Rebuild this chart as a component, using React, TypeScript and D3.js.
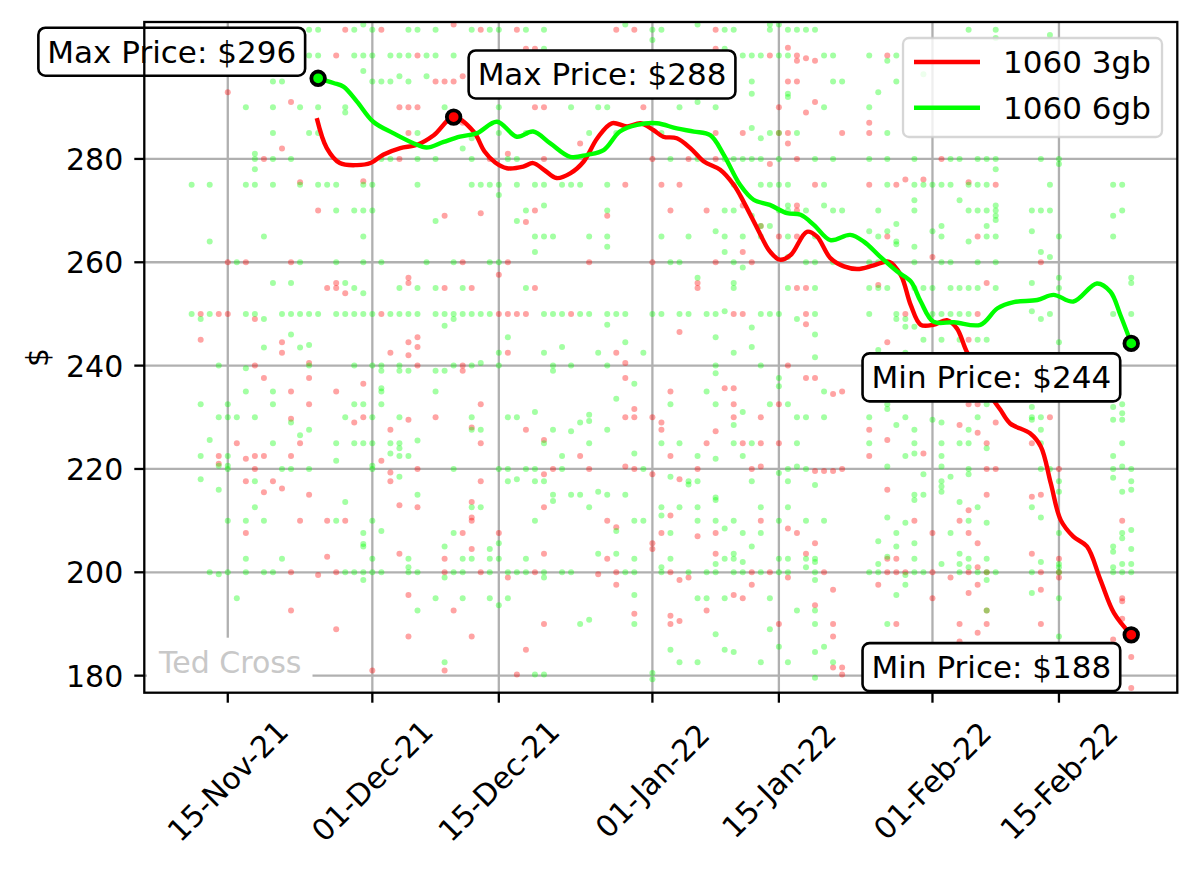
import React, { useEffect, useRef } from "react";
import * as d3 from "d3";

type Pt = [number, number];
type DayCol = [number, number[]];

// day 0 = 15-Nov-21
const baseDate = new Date(2021, 10, 15);
const dayToDate = (d: number) => new Date(baseDate.getTime() + d * 864e5);

const seriesNames = ["1060 3gb", "1060 6gb"];
const seriesColors = ["#ff0000", "#00ff00"];

const tickDates = ["2021-11-15", "2021-12-01", "2021-12-15", "2022-01-01", "2022-01-15", "2022-02-01", "2022-02-15"];
const yTicks = [180, 200, 220, 240, 260, 280];

// individual listings (6gb), [day, prices]
const listings6gbEarly: DayCol[] = [
  [-4, [275, 250]],
  [-3, [305, 249, 232.5, 222.5, 218]],
  [-2, [275, 264, 250, 225.6, 200]],
  [-1, [240, 230, 220.6, 216, 199.6]],
  [0, [232.5, 230, 222.5, 220, 220.6, 210, 200]],
  [1, [260, 230, 195]],
  [2, [290, 275, 250, 239.5, 235, 210, 202.6, 200]],
  [3, [281, 280, 278, 275, 250, 230, 217.6, 212.6]],
  [4, [265, 249, 243.5, 210, 200]],
  [5, [295, 290, 285, 280, 275, 256, 235, 232.5, 225, 200]],
  [6, [295, 250, 220, 202.6]],
  [7, [280, 256, 250, 246, 229, 220]],
  [8, [290, 275, 260, 250, 243.5, 226.5]],
  [9, [305, 300, 285, 250, 244, 240, 227.6, 220]],
  [10, [305, 300, 290, 285, 275, 250]],
  [11, [275]],
  [12, [275, 270, 260, 250, 225, 221.6, 210]],
  [13, [290, 289, 256, 250, 230, 213.6, 200]],
  [14, [305, 300, 270, 255, 250, 240, 232.5, 225, 200]],
  [15, [306, 300, 297, 275, 270, 265, 260, 254, 250, 232.5, 225, 207.6, 205.5, 205, 200, 198.5]],
  [16, [305, 300, 295, 275, 270, 250, 240, 230, 225, 220.6, 220, 210, 202.6, 200]],
  [17, [295, 280, 260, 240, 239, 235.6, 235, 232.5, 208, 200]],
  [18, [300, 295, 280, 250, 225, 223]],
  [19, [300, 296, 255, 250, 240, 239, 230, 225, 224, 222.5, 218.5]],
  [20, [305, 300, 295, 250, 239, 222.5, 202.6, 201, 200]],
  [21, [305, 285, 280, 275, 255, 250, 225.5, 215, 200, 192.6]],
  [22, [300, 296, 260]],
  [23, [305, 300, 280, 268, 255, 250, 239, 235, 195]],
  [24, [290, 250, 247.7, 239, 205, 199, 182.6]],
  [25, [300, 260, 250, 249, 240, 220, 207.6, 200]],
  [26, [282, 255, 250, 202.6, 200, 195]],
  [27, [305, 300, 284, 280, 275, 250, 240, 230, 227.6, 212.6, 202.6]],
  [28, [300, 275, 250, 240.5, 227.6, 212.6]],
  [29, [305, 275, 260, 250, 204.5, 202.6, 200, 195]],
];

const listings6gbMid: DayCol[] = [
  [30, [305, 290, 285, 275, 273, 260, 242.5, 240, 220, 205.6, 202.6, 193.6]],
  [31, [280, 245.5, 230, 220, 217.6, 200, 195]],
  [32, [280, 275, 268, 230, 218, 200]],
  [33, [305, 285, 270, 255, 220, 202.6, 200]],
  [34, [275, 265, 262, 231, 220, 217.6, 210, 180.2]],
  [35, [305, 301.3, 275, 271, 265, 250, 242.5, 225, 217.6, 200, 199, 180.2]],
  [36, [265, 250, 240, 239, 227.6, 215, 213.8]],
  [37, [275, 250, 243.6, 222.5, 220, 200]],
  [38, [290, 275, 240, 227.3, 215, 200]],
  [39, [275, 250, 229, 215, 190]],
  [40, [285, 265, 250, 230.5, 229.3, 225, 212.6, 190.8]],
  [41, [290, 242.5, 215.6, 203.6]],
  [42, [290, 275, 270, 265, 263, 250, 247.9, 240, 227.6, 215]],
  [43, [285, 250, 233.6, 208, 203.6]],
  [44, [306, 250, 244.5, 215, 200]],
  [45, [236.5, 223, 210, 202.6, 200, 195.6, 190]],
  [46, [242.5, 220, 210]],
  [47, [305, 303, 250, 180.5, 179.3]],
  [48, [305, 285, 265, 250, 225, 212.6, 211, 201, 200]],
  [49, [298, 280, 260, 232.5, 218.5, 207.6, 202.6, 185]],
  [50, [290, 260, 250, 225, 212.6, 182.6]],
  [51, [265, 250, 217.6, 217, 200]],
  [52, [306, 291, 280, 257, 222.5, 217.6, 212.6, 210, 195, 182.6]],
  [53, [250, 235, 200, 195]],
  [54, [290, 266, 250, 245.5, 240, 238.5, 232.5, 222, 214.5, 214, 210, 201.6, 200, 188]],
  [55, [305, 301.3, 280, 270, 265, 262, 250.5, 208.5, 202.6, 195, 185]],
  [56, [305, 280, 275, 270, 260, 256, 255, 242.5, 228.5, 225, 210, 203.6, 202.6, 200, 184.6]],
  [57, [300, 280, 265, 259, 231, 222.5, 207.6, 202, 200]],
  [58, [300, 295, 292.6, 286, 280, 269, 247.4, 243.6, 225, 217.6, 205]],
  [59, [300, 284, 280, 275, 267, 265, 250, 240, 212.6, 207.6, 200, 182.6]],
  [60, [306, 305, 285, 275, 267, 250, 232.5, 195, 189]],
  [61, [306, 300, 285, 280, 275, 270, 250, 237.6, 236, 219.2, 210, 202.6, 200, 185.6]],
  [62, [305, 300, 292.6, 292, 275, 271, 270, 265, 261, 255, 232.5, 220, 217.6, 212.6, 202.6, 200, 182.6]],
  [63, [305, 285, 249, 230, 225, 220.5, 192.6]],
  [64, [305, 270, 260, 230, 220, 210, 202.6, 201]],
  [65, [305, 280, 265, 260, 255, 250, 246, 241.6, 216.9, 202.6, 202, 200, 198.5, 192.6, 190, 184.6, 179.6]],
  [66, [300, 290, 275, 271, 235, 230, 210, 185.6]],
];

const listings6gbLate: DayCol[] = [
  [67, [300, 295, 280, 270, 260, 182.6]],
  [68, [295, 270]],
  [71, [300, 290, 280, 266, 260, 255, 250, 230, 225, 200]],
  [72, [292.9, 270, 265, 260, 255, 243, 206, 201.6, 200]],
  [73, [299, 285, 280, 275, 266, 255, 232.5, 231.6, 220.5, 210.6, 203, 190]],
  [74, [300, 295, 267.4, 264, 263.5, 250, 249, 228.5, 207.6, 205, 195.6]],
  [75, [249, 247.5, 242.5, 230, 222.5, 209.6, 199.5, 197.6]],
  [76, [280, 275, 272, 270, 263, 260, 255, 247.5, 227.6, 225, 223, 215, 214, 205.6, 202.6, 200]],
  [77, [296.4, 275, 255, 245, 219, 215, 200]],
  [78, [275, 266, 255, 250, 229.5]],
  [79, [275, 267, 265, 260, 250, 245, 229, 225, 222.5, 220.5, 217.6, 216.6, 215.6, 201.6]],
  [80, [280, 275, 260, 255, 250, 218.5, 207.6]],
  [81, [280, 272, 255, 250, 245, 225, 213.6, 203.6, 201.6, 200]],
  [82, [305, 275, 270, 264, 255, 250, 227.6, 225, 220, 219, 210, 202.6, 201]],
  [83, [280, 275, 270, 260, 255, 245, 230, 212.6, 200]],
  [84, [280, 275, 270, 267, 265, 245, 232.5, 224, 209.6, 202.6, 200, 198.5, 192.6]],
  [85, [305, 303.4, 280, 278, 271, 270, 269, 268.2, 265, 260, 255, 200]],
  [89, [270, 266, 256, 250.5, 232, 230, 229.5, 212.6, 200, 196]],
  [90, [280, 270, 262, 249, 230, 227.6, 225, 220, 210.6, 202]],
  [91, [304, 275, 270, 261, 250, 220]],
  [92, [280, 279, 265, 257, 255, 244.5, 217.6, 215.6, 207.6, 201.6, 201, 200, 195, 187.6]],
  [98, [275, 269, 265, 250, 232, 229.5, 222.5, 220, 218.3, 205, 204, 201, 200]],
  [99, [275, 270, 232.5, 230.8, 229.5, 225, 220.5, 215.6, 207.6, 206.6, 201.6, 200]],
  [100, [257, 256, 250, 220, 217.6, 216, 208.2, 204.5, 201.6, 200]],
];

// individual listings (3gb), [day, prices]
const listings3gbEarly: DayCol[] = [
  [-3, [250, 245]],
  [-1, [250, 222.5, 221]],
  [0, [292.9, 260, 250]],
  [1, [225]],
  [2, [260, 222, 217.6, 207.6]],
  [3, [249, 240, 222.5, 220]],
  [4, [280, 237.6, 222.5, 215.5]],
  [5, [217.6]],
  [6, [282, 244.5, 242.5, 216.2]],
  [7, [291, 260, 235, 229.7, 222.5, 200, 192.6]],
  [8, [275.5, 225, 210]],
  [9, [240.5, 237.6, 232.5, 215]],
  [10, [270, 199.5]],
  [11, [255, 210, 203]],
  [12, [300, 256, 255, 235, 200, 189]],
  [13, [305, 254, 210]],
  [14, [229]],
  [15, [275.7, 236.5, 230]],
  [16, [181]],
  [17, [305, 250, 221.6]],
  [18, [242.5, 227.6, 219.3, 217.6]],
  [19, [290, 280, 213, 203.6]],
  [20, [290, 285, 257, 256, 244.5, 242, 229.5, 195.6, 187.6]],
  [21, [300, 290, 245.5, 243.6, 240, 220, 212.6]],
  [23, [295, 230]],
  [24, [295, 269, 255, 202.6, 200, 181]],
  [25, [306, 295, 192.6]],
  [26, [296, 287, 260, 240, 239, 207.6]],
  [27, [255, 228, 213.6, 210.6, 210, 204.5, 187.6]],
  [28, [305, 269.5, 232.5, 225, 217.6, 200]],
  [29, [280]],
];

const listings3gbMid: DayCol[] = [
  [30, [257.6, 250, 207.6]],
  [31, [281, 260, 250, 242.5, 199]],
  [32, [305, 250, 180.2]],
  [33, [301.3, 267.8, 250, 227.6, 185]],
  [34, [301.3, 290, 270, 255, 200]],
  [35, [290, 280, 225.6, 219, 212.6, 203.6, 190]],
  [36, [220]],
  [38, [250]],
  [39, [283, 222.5]],
  [40, [260, 220]],
  [41, [199.6]],
  [42, [269, 210, 202.6]],
  [43, [305, 242.5, 208.7, 200, 197.6]],
  [44, [275, 240.5, 237.6, 230, 220.5]],
  [45, [305, 231.6, 230, 220, 192]],
  [46, [290]],
  [47, [280, 260, 230, 219, 205.6, 204.5]],
  [48, [275, 229, 227.6, 207.6]],
  [49, [270, 235, 222.5, 211, 200, 191.6, 190]],
  [50, [275, 246.5, 218, 198.5, 190.6]],
  [51, [280, 199]],
  [52, [256, 255, 220, 207]],
  [53, [270, 225, 192.6]],
  [54, [305, 301.3, 285, 280, 260, 227.3, 207.6, 203.6]],
  [55, [235.6]],
  [56, [250, 235.6, 232.5, 230, 195.6]],
  [57, [285, 271, 262, 250, 225, 195]],
  [58, [260, 220, 200, 197.6]],
  [59, [267, 230, 225, 220.5, 210]],
  [60, [300, 279, 200]],
  [61, [290, 285, 265, 232.5, 225, 190]],
  [62, [301.5, 295, 285, 283, 240, 208.5, 199]],
  [63, [300, 299, 295, 280, 271, 270, 265, 255, 207.6]],
  [64, [299.5, 289, 255, 250, 248, 237.6, 203.6]],
  [65, [299, 291, 275, 237.6, 219.6, 205.6, 193.6]],
  [66, [219.6, 200]],
];

const listings3gbLate: DayCol[] = [
  [67, [234.5, 219.6, 196.6, 190, 187.6, 181.6]],
  [68, [285, 235, 220, 181.6, 180.2]],
  [71, [287, 285, 275, 227.6, 222.5]],
  [72, [255.6, 197.6]],
  [73, [300, 265, 244.5, 225.6, 216, 202.6, 200]],
  [74, [275, 202.6, 200, 190]],
  [75, [276, 250, 200]],
  [76, [210]],
  [77, [276, 223]],
  [78, [261, 207.6, 200, 195]],
  [79, [280]],
  [80, [199]],
  [81, [228.5, 210, 190, 186.6]],
  [82, [275.5, 245, 232.5, 212, 207.6, 200, 196]],
  [83, [265, 250, 232.5, 227, 205.6, 201, 197.6, 188.3]],
  [84, [256, 225, 220, 215, 200, 192.6, 190]],
  [85, [275, 229, 220]],
  [89, [225, 214.6, 203.6]],
  [90, [260, 215, 200, 196.6, 190]],
  [91, [230]],
  [92, [220, 202.6, 200, 199]],
  [98, [187]],
  [99, [210, 195, 194.4, 191]],
  [100, [183.6, 177.6]],
];

// smoothed price trend, [day, price]
const trend3gb: Pt[] = [
  [9.85, 287.9], [10.96, 282.1], [12.4, 279.2], [14.3, 278.8], [15.8, 279.2], [17.2, 280.8],
  [19.1, 282.1], [20.9, 282.7], [22.8, 284.6], [25, 288.1], [27.2, 285.3], [28.4, 281.5],
  [29.6, 279.3], [30.9, 278.2], [32.7, 278.5], [33.8, 279.2], [35, 277.9], [36.4, 276.3],
  [37.9, 277.2], [39.4, 279.5], [40.9, 284], [42.5, 286.9], [44.2, 286.3], [45.7, 286.9],
  [47.1, 285.6], [48.2, 284.3], [49.7, 284], [51.2, 282.1], [52.7, 279.5], [54.5, 277.9],
  [56, 275], [57.1, 271.7], [58.6, 266.6], [60, 262.1], [61.1, 260.5], [62.3, 261.4],
  [64.1, 265.9], [65.2, 265], [66.7, 260.8], [68.2, 259.2], [69.7, 258.7], [71.5, 259.4],
  [73.2, 260.1], [74.5, 257.5], [75.6, 251.7], [76.7, 247.9], [78.1, 247.9], [79.6, 248.8],
  [80.7, 247.2], [81.8, 242.7], [82.8, 240], [84.4, 234.3], [85.5, 231.5], [86.6, 228.8],
  [88.8, 226.9], [90, 224.3], [91.1, 217.2], [92.2, 210.1], [93.6, 206.9], [95.1, 205],
  [96.6, 198.5], [98.1, 192.1], [100, 187.9],
];

const trend6gb: Pt[] = [
  [10, 295.6], [11.7, 294.7], [12.8, 294], [14.3, 291.1], [16.1, 287.2], [18.3, 285],
  [20.6, 283], [22, 282.2], [23.9, 283.3], [25.7, 284.3], [27.6, 285], [29.8, 287.2],
  [32, 284.3], [33.8, 285.3], [35.7, 283], [37.9, 280.4], [39.8, 280.8], [41.6, 281.7],
  [43.4, 285.3], [45.3, 286.6], [47.5, 286.9], [49.7, 285.9], [51.6, 285.3], [53.4, 284.6],
  [54.9, 280.8], [56.7, 275], [58.2, 272.1], [60, 271.1], [61.9, 269.5], [63.4, 269.2],
  [64.9, 267.2], [66.7, 264.3], [68.9, 265.3], [70.4, 264], [72.2, 261.1], [74.1, 258.2],
  [75.6, 256.3], [76.7, 252.4], [78.1, 248.5], [80.4, 248.4], [83.3, 247.9], [85.2, 251.1],
  [87, 252.3], [89.6, 252.7], [91.4, 253.7], [93.6, 252.4], [96.2, 255.9], [97.7, 254.3],
  [98.8, 249.8], [100, 244.3],
];

const W = 1200;
const H = 871;
const plot = { left: 144.3, right: 1177.3, top: 22, bottom: 692.7 };
const FONT = "DejaVu Sans";

const flatten = (cols: DayCol[]): Pt[] => cols.flatMap(([d, ps]) => ps.map((p) => [d, p] as Pt));

const App: React.FC = () => {
  const svgRef = useRef<SVGSVGElement | null>(null);

  useEffect(() => {
    document.body.style.margin = "0";
    if (!svgRef.current) return;
    const svg = d3.select(svgRef.current);
    svg.selectAll("*").remove();

    const x = d3.scaleTime().domain([dayToDate(-9.24), dayToDate(105.1)]).range([plot.left, plot.right]);
    const y = d3.scaleLinear().domain([176.7, 306.5]).range([plot.bottom, plot.top]);
    const parse = d3.timeParse("%Y-%m-%d");
    const fmt = d3.timeFormat("%d-%b-%y");
    const ticks = tickDates.map((s) => parse(s) as Date);

    svg.append("rect").attr("width", W).attr("height", H).attr("fill", "#fff");

    svg.append("defs").append("clipPath").attr("id", "plot-clip")
      .append("rect")
      .attr("x", plot.left).attr("y", plot.top)
      .attr("width", plot.right - plot.left).attr("height", plot.bottom - plot.top);

    // grid
    const grid = svg.append("g").attr("stroke", "#b0b0b0").attr("stroke-width", 2.3);
    grid.selectAll(".gy").data(yTicks).enter().append("line")
      .attr("x1", plot.left).attr("x2", plot.right)
      .attr("y1", (d) => y(d)).attr("y2", (d) => y(d));
    grid.selectAll(".gx").data(ticks).enter().append("line")
      .attr("x1", (d) => x(d)).attr("x2", (d) => x(d))
      .attr("y1", plot.top).attr("y2", plot.bottom);

    const inner = svg.append("g").attr("clip-path", "url(#plot-clip)");

    // scatter of listings
    const scatterSets = [
      flatten([...listings3gbEarly, ...listings3gbMid, ...listings3gbLate]),
      flatten([...listings6gbEarly, ...listings6gbMid, ...listings6gbLate]),
    ];
    scatterSets.forEach((pts, i) => {
      inner.append("g").selectAll("circle").data(pts).enter().append("circle")
        .attr("cx", (d) => x(dayToDate(d[0])))
        .attr("cy", (d) => y(d[1]))
        .attr("r", 3)
        .attr("fill", seriesColors[i])
        .attr("fill-opacity", 0.36);
    });

    // watermark with white box
    const ted = inner.append("g");
    const tedRect = ted.append("rect").attr("fill", "#fff");
    const tedText = ted.append("text")
      .attr("x", 159).attr("y", 672.7)
      .attr("font-family", FONT).attr("font-size", 30)
      .attr("fill", "#c8c8c8")
      .text("Ted Cross");
    const tb = (tedText.node() as SVGTextElement).getBBox();
    tedRect.attr("x", tb.x - 11).attr("y", tb.y - 7).attr("width", tb.width + 22).attr("height", tb.height + 20);

    // trend lines
    const line = d3.line<Pt>()
      .x((d) => x(dayToDate(d[0])))
      .y((d) => y(d[1]))
      .curve(d3.curveCatmullRom.alpha(0.5));
    const trends = [trend3gb, trend6gb];
    trends.forEach((t, i) => {
      inner.append("path").datum(t)
        .attr("d", line)
        .attr("fill", "none")
        .attr("stroke", seriesColors[i])
        .attr("stroke-width", 4.4)
        .attr("stroke-linejoin", "round");
    });

    // max / min markers and labels
    const labelOffsets = [
      { max: { dx: 24, dy: -31.6, anchor: "start" }, min: { dx: -20, dy: 43.3, anchor: "end" } },
      { max: { dx: -22, dy: -15.6, anchor: "end" }, min: { dx: -20, dy: 45, anchor: "end" } },
    ];
    const marks = svg.append("g");
    const labels = svg.append("g");
    trends.forEach((t, i) => {
      const hi = t.reduce((a, b) => (b[1] > a[1] ? b : a));
      const lo = t.reduce((a, b) => (b[1] < a[1] ? b : a));
      (
        [
          [hi, "Max", labelOffsets[i].max],
          [lo, "Min", labelOffsets[i].min],
        ] as [Pt, string, { dx: number; dy: number; anchor: string }][]
      ).forEach(([p, kind, off]) => {
        const px = x(dayToDate(p[0]));
        const py = y(p[1]);
        marks.append("circle")
          .attr("cx", px).attr("cy", py).attr("r", 6.8)
          .attr("fill", seriesColors[i])
          .attr("stroke", "#000").attr("stroke-width", 3.8);
        const g = labels.append("g");
        const rect = g.append("rect");
        const txt = g.append("text")
          .attr("x", px + off.dx).attr("y", py + off.dy)
          .attr("text-anchor", off.anchor)
          .attr("font-family", FONT).attr("font-size", 31)
          .attr("fill", "#000")
          .text(`${kind} Price: $${Math.round(p[1])}`);
        const b = (txt.node() as SVGTextElement).getBBox();
        rect.attr("x", b.x - 9).attr("y", b.y - 6)
          .attr("width", b.width + 18).attr("height", b.height + 12)
          .attr("rx", 7)
          .attr("fill", "#fff").attr("stroke", "#000").attr("stroke-width", 2.6);
      });
    });

    // spines
    svg.append("rect")
      .attr("x", plot.left).attr("y", plot.top)
      .attr("width", plot.right - plot.left).attr("height", plot.bottom - plot.top)
      .attr("fill", "none").attr("stroke", "#000").attr("stroke-width", 2.3);

    // y axis
    const yAx = svg.append("g");
    yAx.selectAll("line").data(yTicks).enter().append("line")
      .attr("x1", plot.left - 10).attr("x2", plot.left)
      .attr("y1", (d) => y(d)).attr("y2", (d) => y(d))
      .attr("stroke", "#000").attr("stroke-width", 2.3);
    yAx.selectAll("text").data(yTicks).enter().append("text")
      .attr("x", plot.left - 21).attr("y", (d) => y(d) + 11)
      .attr("text-anchor", "end")
      .attr("font-family", FONT).attr("font-size", 30)
      .text((d) => String(d));
    svg.append("text")
      .attr("transform", `translate(38, ${(plot.top + plot.bottom) / 2}) rotate(-90)`)
      .attr("y", 10)
      .attr("text-anchor", "middle")
      .attr("font-family", FONT).attr("font-size", 30)
      .text("$");

    // x axis
    const xAx = svg.append("g");
    xAx.selectAll("line").data(ticks).enter().append("line")
      .attr("x1", (d) => x(d)).attr("x2", (d) => x(d))
      .attr("y1", plot.bottom).attr("y2", plot.bottom + 10)
      .attr("stroke", "#000").attr("stroke-width", 2.3);
    xAx.selectAll("text").data(ticks).enter().append("text")
      .attr("transform", (d) => `translate(${x(d)}, 781) rotate(-45)`)
      .attr("y", 10.5)
      .attr("text-anchor", "middle")
      .attr("font-family", FONT).attr("font-size", 30)
      .text((d) => fmt(d));

    // legend
    const lg = svg.append("g");
    lg.append("rect")
      .attr("x", 903).attr("y", 38).attr("width", 259).attr("height", 99).attr("rx", 6)
      .attr("fill", "#fff").attr("fill-opacity", 0.8)
      .attr("stroke", "#cccccc").attr("stroke-opacity", 0.8).attr("stroke-width", 2.3);
    seriesNames.forEach((name, i) => {
      const ly = 62 + i * 45.7;
      lg.append("line")
        .attr("x1", 914).attr("x2", 980).attr("y1", ly).attr("y2", ly)
        .attr("stroke", seriesColors[i]).attr("stroke-width", 4.4);
      lg.append("text")
        .attr("x", 1003).attr("y", ly + 11)
        .attr("font-family", FONT).attr("font-size", 31)
        .text(name);
    });
  }, []);

  return <svg ref={svgRef} width={W} height={H} style={{ display: "block" }} />;
};

export default App;
